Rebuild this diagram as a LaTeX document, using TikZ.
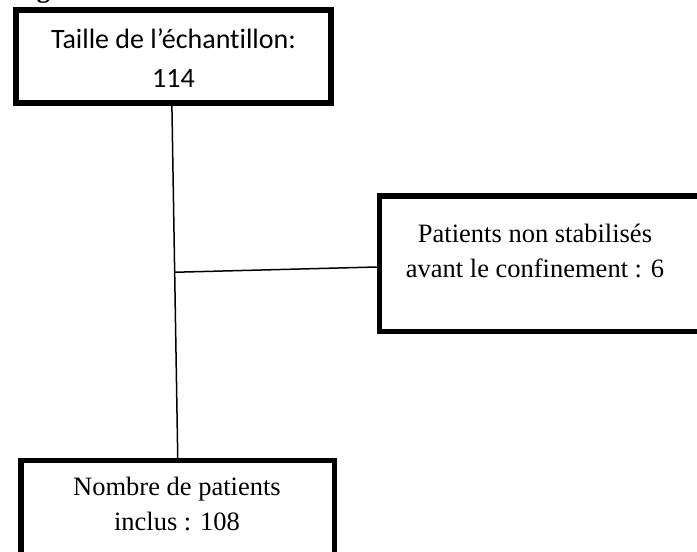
\documentclass[tikz,border=0pt]{standalone}
\usepackage{fontspec}
\setmainfont[Ligatures=NoCommon]{Liberation Serif}
\newfontfamily\calib[Ligatures=NoCommon]{Carlito}
\usetikzlibrary{calc}
\tikzset{
  x=1pt, y=-1pt,
  boxshape/.style={draw=black, line width=5.5pt, fill=white, inner sep=0pt},
  link/.style={draw=black, line width=1.5pt},
  sertext/.style={anchor=base, inner sep=0pt, font=\fontsize{26.5}{35}\selectfont},
  caltext/.style={anchor=base, inner sep=0pt, font=\calib\fontsize{28}{39}\selectfont}
}
\begin{document}
\begin{tikzpicture}
\useasboundingbox (0,0) rectangle (697,552);
\clip (0,0) rectangle (697,552);
\fill[white] (0,0) rectangle (697,552);
% cut-off caption fragment
\node[anchor=base, inner sep=0pt, font=\bfseries\fontsize{26.5}{30}\selectfont] (cap) at (43.5,-2.5) {g};
% boxes
\node[boxshape, minimum width=315pt, minimum height=93pt] (top) at (173.4,56.5) {};
\node[boxshape, minimum width=321pt, minimum height=135.5pt] (right) at (540,263.75) {};
\node[boxshape, minimum width=313.5pt, minimum height=96pt] (bottom) at (177.75,508.5) {};
% texts
\node[caltext] (t1) at (173.5,48) {Taille de l’échantillon:};
\node[caltext] (t2) at (173.5,87) {114};
\node[sertext] (r1) at (535,242) {Patients non stabilisés};
\node[sertext] (r2) at (535,277) {avant le confinement : 6};
\node[sertext] (b1) at (177,495) {Nombre de patients};
\node[sertext] (b2) at (177,530) {inclus : 108};
% connectors
\coordinate (v1) at ($(top.south)+(-1.5,0)$);
\coordinate (v2) at (bottom.north);
\coordinate (j) at ($(v1)!0.473!(v2)$);
\draw[link] (v1) -- (v2);
\draw[link] (j) -- ($(right.west)+(0,3.25)$);
\end{tikzpicture}
\end{document}
